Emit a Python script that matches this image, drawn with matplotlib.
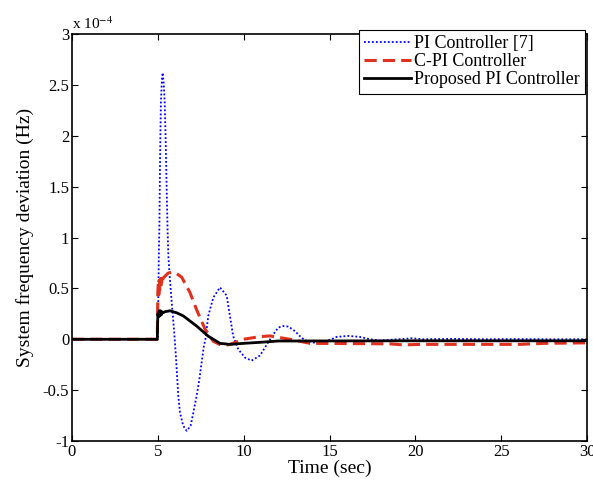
import matplotlib
matplotlib.use('Agg')
import matplotlib.pyplot as plt

# values in units of 1e-4 Hz
t_pi = [0, 5.0, 5.03, 5.06, 5.09, 5.13, 5.18, 5.24, 5.28, 5.34, 5.40, 5.46, 5.52, 5.57,
        5.62, 5.70, 5.81, 5.94, 6.06, 6.10, 6.19, 6.29, 6.48, 6.68, 6.91, 7.07, 7.26,
        7.42, 7.55, 7.69, 7.77, 7.94, 8.23, 8.62, 9.01, 9.20, 9.39, 9.69, 10.08, 10.46,
        10.95, 11.43, 11.73, 12.02, 12.31, 12.60, 12.99, 13.28, 13.57, 14.25, 15.03,
        15.40, 16.09, 16.77, 17.36, 17.94, 18.52, 19.30, 19.78, 20.46, 22.0, 24.0,
        26.0, 28.0, 30.0]
v_pi = [0, 0, 0.45, 0.85, 1.11, 1.77, 2.33, 2.56, 2.62, 2.52, 2.33, 1.93, 1.44, 1.05,
        0.80, 0.60, 0.36, 0.10, -0.18, -0.30, -0.55, -0.72, -0.85, -0.90, -0.85, -0.72,
        -0.557, -0.393, -0.229, -0.06, 0.0, 0.23, 0.41, 0.51, 0.43, 0.23, 0.03, -0.10,
        -0.18, -0.21, -0.16, -0.03, 0.05, 0.115, 0.13, 0.125, 0.08, 0.03, -0.01, -0.04,
        -0.007, 0.023, 0.033, 0.023, 0.0, -0.013, -0.005, 0.003, 0.01, 0.0, 0.004,
        0.0, 0.002, 0.0, 0.0]

t_cpi = [0, 4.97, 5.0, 5.03, 5.06, 5.09, 5.12, 5.15, 5.18, 5.21, 5.25, 5.30, 5.42, 5.60,
         5.80, 6.10, 6.39, 6.87, 7.26, 7.75, 8.23, 8.72, 8.90, 9.20, 9.98, 10.95, 11.53,
         12.11, 12.70, 13.28, 13.86, 16.0, 18.5, 19.3, 20.3, 23.0, 26.1, 27.5, 30.0]
v_cpi = [0, 0, 0.46, 0.55, 0.44, 0.58, 0.47, 0.59, 0.50, 0.60, 0.54, 0.60, 0.62, 0.65,
         0.66, 0.645, 0.61, 0.46, 0.29, 0.10, -0.02, -0.06, -0.06, -0.05, 0.0, 0.026, 0.033,
         0.016, 0.0, -0.02, -0.04, -0.042, -0.045, -0.055, -0.05, -0.05, -0.05, -0.04,
         -0.035]

t_prop = [0, 4.97, 5.0, 5.04, 5.08, 5.12, 5.16, 5.20, 5.25, 5.30, 5.40, 5.70,
          6.10, 6.48, 7.26, 7.94, 8.62, 9.20, 10.0, 10.95, 12.0, 20.0, 30.0]
v_prop = [0, 0, 0.25, 0.22, 0.28, 0.23, 0.28, 0.24, 0.27, 0.26, 0.27, 0.28,
          0.26, 0.23, 0.13, 0.03, -0.04, -0.05, -0.04, -0.03, -0.017, -0.015, -0.015]

labels = ['PI Controller [7]', 'C-PI Controller', 'Proposed PI Controller']

plt.rcParams['font.family'] = ['Liberation Serif', 'DejaVu Serif']
plt.rcParams['mathtext.fontset'] = 'stix'

fig = plt.figure(figsize=(5.93, 4.8), dpi=100)
ax = fig.add_axes([0.1214, 0.0812, 0.8685, 0.8479])

ax.plot(t_pi, v_pi, color='#0000ff', lw=1.3, ls=(0, (1, 1.2)), label=labels[0])
ax.plot(t_cpi, v_cpi, color='#e0301e', lw=2.2, ls=(0, (4, 2)), label=labels[1])
ax.plot(t_prop, v_prop, color='black', lw=2.0, label=labels[2])

ax.set_xlim(0, 30)
ax.set_ylim(-1, 3)
ax.set_xticks([0, 5, 10, 15, 20, 25, 30])
ax.set_yticks([-1, -0.5, 0, 0.5, 1, 1.5, 2, 2.5, 3])
ax.set_yticklabels(['-1', '-0.5', '0', '0.5', '1', '1.5', '2', '2.5', '3'])
ax.tick_params(direction='in', top=True, right=True, labelsize=12, length=4, width=0.8,
               pad=2)
for s in ax.spines.values():
    s.set_linewidth(1.2)

ax.set_xlabel('Time (sec)', fontsize=14, labelpad=0)
ax.set_ylabel('System frequency deviation (Hz)', fontsize=14, labelpad=6)
ax.text(0.0, 1.006, r'x 10$^{-4}$', transform=ax.transAxes, fontsize=11,
        ha='left', va='bottom')

leg = ax.legend(loc='upper right', bbox_to_anchor=(0.996, 1.01), fontsize=13,
                frameon=True, fancybox=False, edgecolor='black', framealpha=1,
                handlelength=2.6, handletextpad=0.15, labelspacing=0.05,
                borderpad=0.3, borderaxespad=0)
leg.get_frame().set_linewidth(0.8)

fig.savefig('out.png', dpi=100)
